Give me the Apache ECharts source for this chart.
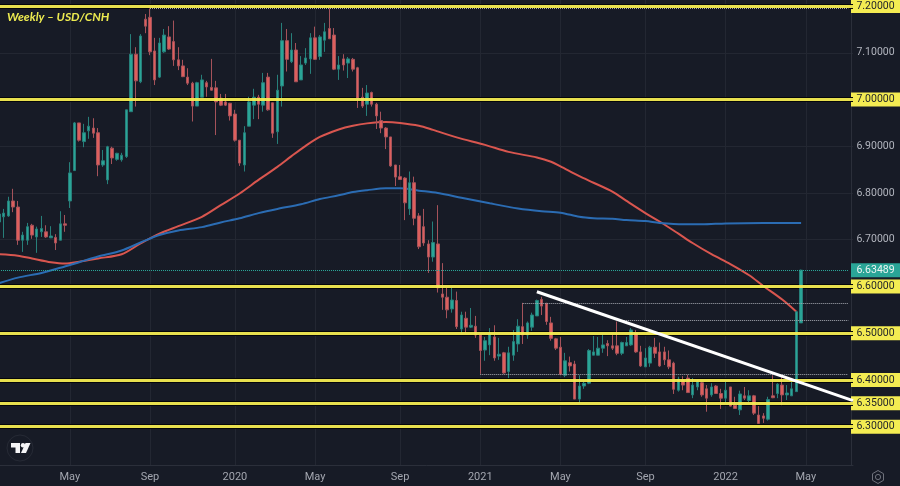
<!DOCTYPE html>
<html>
<head>
<meta charset="utf-8">
<title>Weekly - USD/CNH</title>
<script src="https://cdn.jsdelivr.net/npm/echarts@6/dist/echarts.min.js"></script>
<style>
  html, body { margin: 0; padding: 0; background: #171b26; }
  #chart { width: 900px; height: 486px; }
</style>
</head>
<body>
<div id="chart"></div>
<script>
// weekly slots, one per Monday
const firstWeek = '2019-01-21';
const weekCount = 182;

const tickWeeks = ['2019-05-06', '2019-09-02', '2020-01-06', '2020-05-04', '2020-09-07', '2021-01-04', '2021-05-03', '2021-09-06', '2022-01-03', '2022-05-02'];
const tickTexts = ['May', 'Sep', '2020', 'May', 'Sep', '2021', 'May', 'Sep', '2022', 'May'];

const priceGrid = [7.2, 7.1, 7.0, 6.9, 6.8, 6.7, 6.6, 6.5, 6.4, 6.3];
const priceLabels = [7.2, 7.1, 7.0, 6.9, 6.8, 6.7, 6.63489, 6.6, 6.5, 6.4, 6.35, 6.3];
const levels = [7.2, 7.0, 6.6, 6.5, 6.4, 6.35, 6.3];
const lastPrice = 6.63489;

// open, close, low, high
const candleValues = [
  [6.738,6.755,6.717,6.768],[6.749,6.757,6.704,6.766],[6.751,6.783,6.749,6.792],[6.783,6.770,6.759,6.809],
  [6.770,6.699,6.689,6.783],[6.699,6.710,6.674,6.717],[6.699,6.728,6.689,6.736],[6.731,6.710,6.702,6.734],
  [6.706,6.723,6.672,6.728],[6.717,6.724,6.706,6.751],[6.717,6.706,6.704,6.731],[6.704,6.708,6.704,6.729],
  [6.705,6.693,6.678,6.712],[6.699,6.734,6.699,6.761],[6.734,6.731,6.717,6.753],[6.783,6.843,6.768,6.866],
  [6.848,6.950,6.847,6.952],[6.950,6.913,6.910,6.950],[6.910,6.929,6.898,6.948],[6.933,6.943,6.916,6.963],
  [6.939,6.928,6.918,6.960],[6.929,6.860,6.836,6.939],[6.860,6.869,6.856,6.892],[6.828,6.899,6.819,6.901],
  [6.896,6.875,6.862,6.899],[6.872,6.885,6.869,6.886],[6.871,6.881,6.867,6.886],[6.878,6.978,6.875,6.978],
  [6.974,7.097,6.974,7.140],[7.097,7.040,6.985,7.112],[7.038,7.136,7.035,7.140],[7.172,7.157,7.142,7.183],
  [7.176,7.102,7.095,7.195],[7.104,7.042,7.031,7.132],[7.048,7.121,7.046,7.132],[7.102,7.138,7.100,7.151],
  [7.134,7.108,7.106,7.157],[7.124,7.085,7.072,7.169],[7.085,7.072,7.063,7.112],[7.072,7.049,7.048,7.085],
  [7.048,7.035,7.031,7.067],[7.035,6.986,6.953,7.038],[6.986,7.036,6.986,7.038],[7.005,7.042,7.005,7.053],
  [7.036,7.027,7.006,7.040],[7.026,7.020,7.019,7.087],[7.025,6.995,6.924,7.040],[7.003,6.988,6.986,7.012],
  [6.995,6.988,6.986,7.012],[6.992,6.965,6.955,6.993],[6.969,6.913,6.910,6.978],[6.913,6.864,6.858,6.913],
  [6.860,6.929,6.846,6.943],[6.943,6.995,6.943,7.006],[6.988,7.005,6.958,7.023],[7.005,6.990,6.958,7.010],
  [6.988,7.036,6.974,7.057],[7.048,6.978,6.976,7.057],[6.993,6.928,6.918,6.993],[6.931,7.020,6.905,7.053],
  [7.029,7.126,6.985,7.164],[7.126,7.086,7.060,7.151],[7.081,7.106,7.078,7.142],[7.106,7.038,7.038,7.121],
  [7.042,7.074,7.042,7.093],[7.078,7.089,7.074,7.110],[7.087,7.132,7.055,7.142],[7.132,7.086,7.085,7.156],
  [7.092,7.134,7.085,7.138],[7.127,7.145,7.102,7.164],[7.152,7.130,7.130,7.195],[7.138,7.065,7.063,7.153],
  [7.065,7.074,7.042,7.093],[7.087,7.074,7.062,7.097],[7.078,7.087,7.046,7.091],[7.086,7.065,7.060,7.089],
  [7.068,7.003,6.982,7.070],[7.005,6.986,6.982,7.025],[6.990,7.014,6.965,7.031],[7.015,6.990,6.985,7.017],
  [6.990,6.965,6.937,6.993],[6.955,6.939,6.928,6.974],[6.939,6.920,6.894,6.941],[6.920,6.858,6.856,6.920],
  [6.860,6.834,6.815,6.860],[6.835,6.829,6.828,6.860],[6.832,6.779,6.742,6.834],[6.766,6.822,6.753,6.846],
  [6.822,6.746,6.731,6.835],[6.751,6.685,6.680,6.757],[6.728,6.693,6.687,6.766],[6.691,6.663,6.629,6.699],
  [6.663,6.694,6.653,6.739],[6.691,6.597,6.587,6.774],[6.584,6.577,6.550,6.650],[6.577,6.550,6.532,6.597],
  [6.552,6.571,6.544,6.597],[6.570,6.514,6.509,6.589],[6.509,6.539,6.500,6.546],[6.532,6.513,6.500,6.546],
  [6.513,6.517,6.511,6.554],[6.515,6.496,6.490,6.537],[6.496,6.463,6.413,6.496],[6.464,6.484,6.441,6.492],
  [6.475,6.498,6.453,6.511],[6.492,6.447,6.441,6.517],[6.451,6.455,6.443,6.490],[6.458,6.415,6.413,6.460],
  [6.418,6.458,6.404,6.471],[6.453,6.482,6.441,6.507],[6.477,6.515,6.460,6.530],[6.514,6.496,6.477,6.565],
  [6.496,6.522,6.488,6.525],[6.513,6.539,6.505,6.544],[6.537,6.570,6.537,6.572],[6.572,6.558,6.539,6.578],
  [6.564,6.525,6.518,6.565],[6.522,6.489,6.484,6.535],[6.488,6.468,6.464,6.490],[6.470,6.412,6.410,6.492],
  [6.410,6.441,6.406,6.458],[6.437,6.430,6.418,6.450],[6.434,6.359,6.359,6.441],[6.359,6.387,6.351,6.410],
  [6.387,6.393,6.381,6.396],[6.393,6.463,6.391,6.466],[6.453,6.460,6.453,6.494],[6.453,6.468,6.453,6.492],
  [6.468,6.475,6.458,6.496],[6.478,6.473,6.451,6.485],[6.473,6.468,6.464,6.496],[6.473,6.457,6.453,6.525],
  [6.457,6.480,6.453,6.482],[6.473,6.480,6.473,6.492],[6.475,6.507,6.473,6.511],[6.501,6.460,6.458,6.507],
  [6.460,6.430,6.428,6.473],[6.428,6.447,6.428,6.468],[6.436,6.470,6.428,6.473],[6.470,6.457,6.447,6.490],
  [6.460,6.430,6.428,6.480],[6.460,6.443,6.432,6.471],[6.443,6.428,6.423,6.463],[6.436,6.380,6.370,6.439],
  [6.378,6.402,6.375,6.407],[6.400,6.389,6.378,6.408],[6.404,6.373,6.372,6.411],[6.368,6.389,6.361,6.404],
  [6.385,6.396,6.378,6.400],[6.394,6.368,6.364,6.396],[6.381,6.361,6.332,6.389],[6.368,6.385,6.364,6.393],
  [6.387,6.371,6.370,6.389],[6.371,6.361,6.338,6.381],[6.361,6.378,6.351,6.396],[6.385,6.344,6.343,6.385],
  [6.346,6.339,6.338,6.364],[6.336,6.370,6.325,6.377],[6.366,6.361,6.357,6.385],[6.356,6.366,6.353,6.378],
  [6.366,6.329,6.325,6.368],[6.325,6.307,6.307,6.344],[6.323,6.318,6.308,6.329],[6.316,6.358,6.313,6.364],
  [6.366,6.362,6.361,6.410],[6.371,6.391,6.361,6.393],[6.389,6.368,6.346,6.407],[6.368,6.372,6.357,6.389],
  [6.366,6.381,6.366,6.396],[6.375,6.546,6.375,6.546],[6.522,6.63489,6.522,6.636]
];

// moving averages, read at the week indexes below
const redMaWeeks = [0,4,7,11,14,17,21,26,30,34,38,43,47,51,55,59,62,65,68,72,75,78,82,85,89,92,97,103,108,114,117,119,123,126,130,133,137,140,144,147,151,155,159,162,166,169];
const redMaValues = [6.669,6.666,6.660,6.652,6.649,6.653,6.660,6.669,6.692,6.713,6.729,6.749,6.774,6.799,6.828,6.856,6.879,6.901,6.920,6.936,6.944,6.949,6.952,6.950,6.944,6.935,6.919,6.903,6.888,6.876,6.867,6.857,6.836,6.822,6.803,6.783,6.757,6.739,6.713,6.693,6.669,6.648,6.624,6.601,6.572,6.546];
const blueMaWeeks = [0,4,9,13,17,21,26,30,34,38,43,47,51,55,59,64,68,72,75,78,82,85,89,93,98,104,110,115,119,123,126,130,133,137,140,145,149,154,162,170];
const blueMaValues = [6.607,6.619,6.629,6.640,6.652,6.664,6.677,6.694,6.710,6.720,6.727,6.737,6.746,6.757,6.766,6.776,6.787,6.795,6.802,6.806,6.810,6.810,6.805,6.800,6.790,6.778,6.767,6.761,6.758,6.749,6.746,6.745,6.742,6.740,6.736,6.733,6.733,6.735,6.736,6.736];

// dotted price lines: start week index, price
const dottedStarts = [32, 111, 132, 102];
const dottedPrices = [7.195, 6.5632, 6.5276, 6.4127];

const trendWeeks = [114, 181];
const trendPrices = [6.5888, 6.3556];

const weeks = [];
for (let i = 0; i < weekCount; i++) {
    const d = new Date(Date.parse(firstWeek + 'T00:00:00Z') + i * 7 * 86400000);
    weeks.push(d.toISOString().slice(0, 10));
}

const BG = '#171b26';
const GRID = '#232732';
const EDGE = '#2b2f3a';
const YELLOW = '#f4ec52';
const TEAL = '#2aa597';
const RED = '#dd5f5c';
const tagFont = "Roboto, sans-serif";

const zipPoints = (idx, vals) => idx.map((w, i) => [w, vals[i]]);

const levelLine = (v) => ({ yAxis: v });

const chart = echarts.init(document.getElementById('chart'));
chart.setOption({
    animation: false,
    backgroundColor: BG,
    title: {
        text: 'Weekly – USD/CNH',
        left: 7,
        top: 11,
        padding: 0,
        textStyle: { color: '#ecea50', fontFamily: 'Lato, sans-serif', fontStyle: 'italic', fontWeight: 'bold', fontSize: 12 }
    },
    grid: { left: -1, top: 0, width: 854, height: 465, outerBoundsMode: 'none' },
    xAxis: {
        type: 'category',
        data: weeks,
        boundaryGap: false,
        axisLine: { lineStyle: { color: EDGE } },
        axisTick: { show: false },
        splitLine: {
            show: true,
            interval: (i, v) => tickWeeks.includes(v),
            lineStyle: { color: GRID }
        },
        axisLabel: {
            interval: (i, v) => tickWeeks.includes(v),
            formatter: (v) => tickTexts[tickWeeks.indexOf(v)],
            color: '#a3a6af',
            fontFamily: tagFont,
            fontSize: 11,
            margin: 7
        }
    },
    yAxis: {
        type: 'value',
        position: 'right',
        offset: -2,
        min: 6.218,
        max: 7.213,
        axisLine: { show: true, lineStyle: { color: EDGE } },
        axisTick: { show: false, customValues: priceGrid },
        splitLine: { show: true, lineStyle: { color: GRID } },
        axisLabel: {
            customValues: priceLabels,
            margin: 0,
            formatter: (v) => {
                if (v === lastPrice) return '{last|' + v.toFixed(5) + '}';
                return (levels.includes(v) ? '{level|' : '{plain|') + v.toFixed(5) + '}';
            },
            rich: {
                plain: { width: 49, height: 14, align: 'center', color: '#b2b5be', fontFamily: tagFont, fontSize: 10.5 },
                level: { width: 49, height: 14, align: 'center', color: '#1d2029', backgroundColor: YELLOW, fontFamily: tagFont, fontSize: 10.5 },
                last: { width: 49, height: 14, align: 'center', color: '#eef4f3', backgroundColor: TEAL, fontFamily: tagFont, fontSize: 10.5 }
            }
        }
    },
    series: [
        {
            // dark outline under the yellow levels
            type: 'line',
            data: [],
            z: 1,
            silent: true,
            markLine: {
                silent: true, symbol: 'none', label: { show: false }, z: 1,
                lineStyle: { color: '#05060a', width: 5, type: 'solid' },
                data: levels.map(levelLine)
            }
        },
        {
            name: 'Slow MA',
            type: 'line',
            z: 2,
            smooth: 0.3,
            showSymbol: false,
            silent: true,
            lineStyle: { color: '#d9564f', width: 2 },
            data: zipPoints(redMaWeeks, redMaValues)
        },
        {
            name: 'Fast MA',
            type: 'line',
            z: 2,
            smooth: 0.3,
            showSymbol: false,
            silent: true,
            lineStyle: { color: '#2b6cb3', width: 2 },
            data: zipPoints(blueMaWeeks, blueMaValues)
        },
        {
            name: 'USD/CNH',
            type: 'candlestick',
            z: 3,
            barWidth: 3,
            silent: true,
            itemStyle: { color: TEAL, color0: RED, borderColor: '#277f7a', borderColor0: '#a5525a', borderWidth: 1 },
            data: candleValues
        },
        {
            // yellow levels plus the dotted price lines
            type: 'line',
            data: [],
            z: 4,
            silent: true,
            markLine: {
                silent: true, symbol: 'none', label: { show: false }, z: 4,
                lineStyle: { color: YELLOW, width: 3, type: 'solid', opacity: 0.95 },
                data: levels.map(levelLine)
            }
        },
        {
            type: 'line',
            data: [],
            z: 4,
            silent: true,
            markLine: {
                silent: true, symbol: 'none', label: { show: false }, z: 4,
                lineStyle: { color: '#a8abb3', width: 1, type: 'dotted' },
                data: dottedStarts.map((w, i) => [
                    { coord: [weeks[w], dottedPrices[i]] },
                    { coord: [weeks[weekCount - 2], dottedPrices[i]] }
                ]).concat([[
                    { coord: [weeks[0], lastPrice], lineStyle: { color: TEAL, width: 1, type: 'dotted' } },
                    { coord: [weeks[weekCount - 2], lastPrice] }
                ]])
            }
        },
        {
            // trendline from the 2021 high
            type: 'line',
            data: [],
            z: 5,
            silent: true,
            markLine: {
                silent: true, symbol: 'none', label: { show: false }, z: 5,
                lineStyle: { color: '#ffffff', width: 3, type: 'solid' },
                data: [[
                    { coord: [weeks[trendWeeks[0]], trendPrices[0]] },
                    { coord: [weeks[trendWeeks[1]], trendPrices[1]] }
                ]]
            }
        }
    ],
    graphic: [
        // logo, bottom left
        { type: 'circle', shape: { cx: 20, cy: 448, r: 13 }, style: { fill: 'transparent', stroke: '#262a35', lineWidth: 1 }, silent: true },
        { type: 'polygon', shape: { points: [[11, 443], [20, 443], [20, 453], [15.5, 453], [15.5, 447.5], [11, 447.5]] }, style: { fill: '#f4f4f6' }, silent: true },
        { type: 'circle', shape: { cx: 23, cy: 445.2, r: 2.2 }, style: { fill: '#f4f4f6' }, silent: true },
        { type: 'polygon', shape: { points: [[25.5, 443], [30.5, 443], [26, 453], [21, 453]] }, style: { fill: '#f4f4f6' }, silent: true },
        // settings icon, bottom right
        { type: 'polygon', shape: { points: [[878, 470.5], [883.5, 473.7], [883.5, 480.3], [878, 483.5], [872.5, 480.3], [872.5, 473.7]] }, style: { fill: 'transparent', stroke: '#6f727c', lineWidth: 1 }, silent: true },
        { type: 'circle', shape: { cx: 878, cy: 477, r: 2.6 }, style: { fill: 'transparent', stroke: '#6f727c', lineWidth: 1 }, silent: true }
    ]
});
</script>
</body>
</html>
